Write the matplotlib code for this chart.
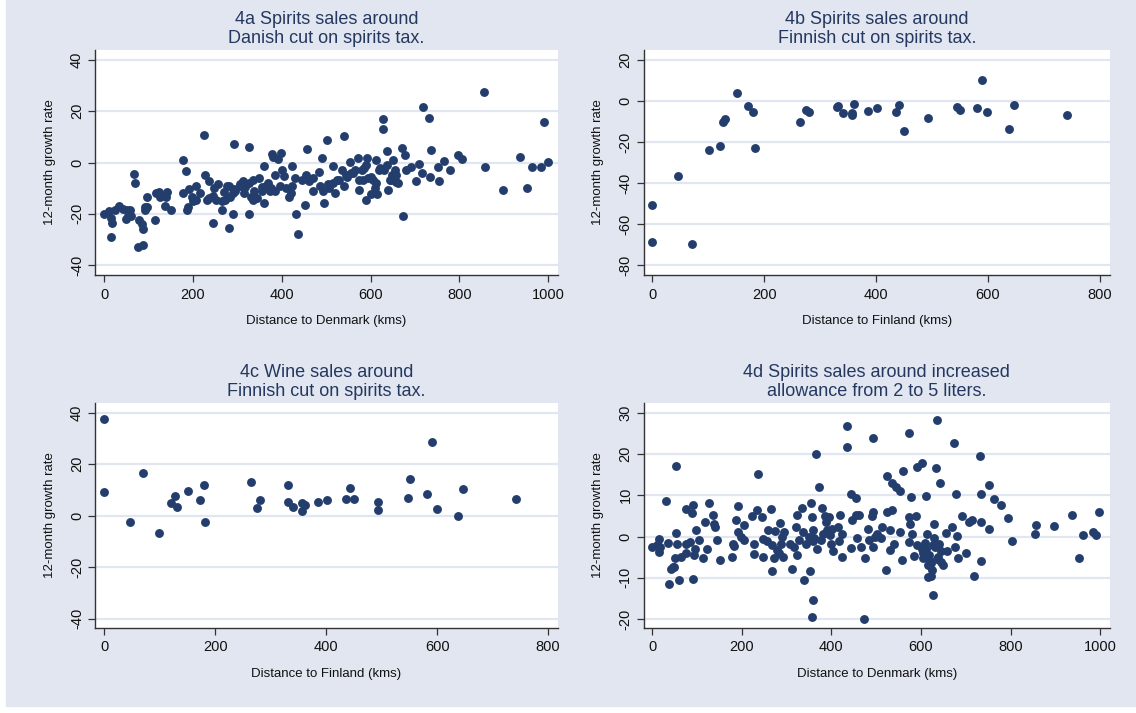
import numpy as np
import matplotlib
matplotlib.use("Agg")
import matplotlib.pyplot as plt

plt.rcParams['font.family'] = ['Liberation Sans', 'DejaVu Sans']

# ---- data ----
# 4a: spirits sales vs distance to Denmark
a_x = [0, 11, 15, 17, 16, 25, 33, 42, 50, 53, 48, 57, 60, 66, 70, 76, 79, 87, 87, 84,
       91, 91, 97, 96, 114, 117, 123, 125, 136, 140, 142, 150, 177, 178, 183, 187, 189, 191, 197, 206,
       207, 224, 228, 232, 236, 244, 247, 251, 256, 266, 269, 273, 277, 280, 283, 289, 292, 289, 293, 306,
       312, 318, 326, 326, 330, 334, 338, 348, 355, 359, 361, 369, 373, 377, 380, 385, 392, 398, 400, 404,
       416, 423, 424, 433, 436, 445, 456, 453, 461, 471, 484, 491, 493, 494, 502, 505, 516, 520, 528, 540,
       546, 554, 560, 572, 575, 580, 584, 589, 593, 601, 602, 615, 613, 620, 628, 628, 638, 640, 646, 650,
       657, 658, 670, 673, 677, 681, 691, 702, 709, 716, 718, 732, 734, 736, 752, 755, 765, 779, 796, 807,
       856, 857, 898, 937, 952, 964, 984, 992, 1000,
       525, 535, 545, 555, 565, 575, 585, 595, 605, 612,
       622, 630, 636, 643, 648, 655, 663, 610, 590, 540,
       515, 506, 485, 470, 455,
       280, 295, 305, 315, 325, 335, 345, 355, 365, 375,
       385, 395, 410, 420, 430, 265, 245, 235, 215, 200]
a_y = [-20.2, -19, -21.7, -23.7, -29, -18.7, -16.8, -18, -18.5, -21, -22, -18.5, -20.8, -4.5, -8, -33, -22.6, -32, -26, -24,
       -17.4, -18.5, -13.3, -17.2, -22.4, -12, -11.7, -13.3, -17, -13.5, -11.7, -18.5, -12, 1, -3.5, -18.5, -17.2, -10.4, -13.5, -9,
       -14.6, 10.8, -4.8, -14.6, -7.4, -23.7, -10, -14.6, -8.3, -18.5, -11.7, -14.6, -9, -25.6, -13.3, -20, 7.3, -12, -10.4, -8.5,
       -7.2, -9.4, 6, -20, -13.3, -14.6, -11.3, -5.9, -9.4, -15.9, -1.2, -8, -11.3, 3.3, 2.3, -4.8, 1.4, 3.6, -2.9, -5.2,
       -13.3, -1.2, -9, -20, -28, -6.8, 5.3, -16.4, -7.4, -11.3, -3.9, 1.8, -11, -15.9, 8.8, -8.5, -1.2, -12, -6.8, 10.5,
       -5.5, 0.1, -4.2, 1.7, -10.7, -2.9, -6.8, -14.6, 1.7, -5.5, -12.2, -12.2, 0.8, -2.9, 17, 13, 4.3, -10.7, -6.8, 1,
       -7.7, -4.8, 5.8, -20.8, 3, -2.9, -1.6, -7.4, -0.5, -4.2, 21.8, 17.5, -5.5, 4.9, -1.6, -7.4, 0.4, -3.1, 2.9, 1.3,
       27.4, -1.6, -10.7, 2.3, -9.8, -1.6, -1.8, 15.7, 0.1,
       -7, -3, -5, -4, -3, -7, -2, -6, -7, -8,
       -2, -3, -1, -7, -5, -3, -8, -10, -1, -9,
       -8, -10, -9, -6, -5,
       -9, -11, -9, -12, -8, -7, -14, -11, -9, -10,
       -11, -9, -10, -12, -6, -15, -13, -14, -12, -15]

# 4b / 4c: Finnish regions
fin_x = [0, 0, 46, 71, 101, 121, 127, 131, 151, 172, 181, 183, 264, 275, 280, 331, 332, 341, 357, 357,
         361, 385, 402, 435, 441, 450, 493, 545, 550, 581, 589, 598, 637, 647, 741]
b_y = [-50.5, -68.7, -36.5, -69.8, -23.9, -21.9, -10.2, -8.6, 3.7, -2.3, -5.2, -22.7, -10.4, -4.2, -5.2, -3.1, -2.4, -6, -6.8, -6,
       -1.6, -4.9, -3.6, -5.2, -1.9, -14.8, -8.4, -3.1, -4.4, -3.6, 10.4, -5.5, -13.8, -2.1, -6.7]

c_x = [0, 0, 46, 70, 99, 120, 127, 131, 150, 172, 180, 182, 264, 275, 280, 331, 331, 341, 356, 356,
       361, 385, 402, 435, 443, 450, 493, 493, 547, 551, 581, 590, 600, 638, 647, 743]
c_y = [37.4, 9.2, -2.6, 16.7, -6.6, 4.9, 7.8, 3.5, 9.6, 6.0, 11.9, -2.3, 12.9, 2.8, 6.0, 11.7, 5.2, 3.5, 4.9, 1.8,
       4.1, 5.3, 6.0, 6.5, 10.6, 6.3, 5.4, 2.2, 7.0, 14.4, 8.5, 28.5, 2.6, -0.3, 10.4, 6.5]

# 4d: spirits sales around increased allowance
d_x = [0, 11, 15, 15, 18, 31, 36, 37, 42, 46, 49, 53, 54, 52, 56, 59, 64, 75, 75, 75,
       85, 89, 92, 91, 94, 97, 96, 105, 114, 117, 123, 126, 136, 138, 141, 144, 151, 178, 180, 183,
       186, 192, 192, 198, 205, 206, 223, 227, 227, 235, 237, 245, 247, 248, 256, 258, 265, 267, 267, 273,
       275, 279, 282, 286, 287, 289, 291, 294, 308, 312, 317, 321, 324, 324, 328, 334, 336, 338, 344, 351,
       352, 354, 356, 359, 356, 359, 360, 362, 366, 367, 373, 376, 378, 381, 385, 389, 391, 395, 397, 399,
       401, 403, 415, 417, 419, 424, 424, 434, 434, 443, 443, 446, 454, 456, 458, 462, 466, 472, 474, 482,
       484, 490, 493, 494, 494, 498, 502, 510, 514, 521, 524, 524, 531, 531, 535, 535, 539, 545, 554, 554,
       557, 561, 573, 573, 574, 576, 578, 581, 585, 588, 592, 592, 602, 602, 604, 612, 614, 615, 620, 623,
       627, 628, 630, 632, 634, 636, 638, 640, 642, 644, 656, 658, 669, 673, 677, 678, 681, 682, 692, 700,
       708, 714, 719, 731, 734, 734, 734, 752, 752, 763, 779, 795, 804, 854, 856, 896, 937, 952, 962, 983,
       990, 998,
       608, 612, 618, 622, 626, 635, 645, 650, 625, 616, 605]
d_y = [-2.5, -2.1, -0.7, -3.7, -2.5, 8.7, -1.5, -11.4, -7.8, -7.5, -7.3, 17.1, 0.9, -5.1, -1.9, -10.6, -4.9, 6.7, -1.7, -4,
       -1.3, 5.7, 7.6, -10.4, -4.5, 1.5, -3.1, -0.9, -5.3, 3.6, -3, 8.1, 5.3, 3, 2.2, -0.9, -5.7, -4.9, -1.7, -2.3,
       4, 7.4, 1.1, -0.1, -0.9, 2.7, 5, -1.9, -4.3, 6.4, 15.2, 4.8, -0.6, -4.9, -1.1, 1.5, 6.6, -2.1, -8.3, -5.3,
       1.3, -3.3, -4.1, 3.3, -1.7, -0.2, -4.9, 1.1, -1.7, -7.8, -2.5, 2.3, 5.3, -4.5, -0.9, 7, 1.1, -10.6, -1.7, -0.1,
       -8.3, 8.2, -19.6, -15.5, 4.8, 1.5, -1.1, -0.3, 19.9, -3.1, 11.9, -0.9, 6.8, 0.7, 5, 3.6, 1.5, 4.8, 0.3, -1.9,
       1.9, -3.6, 2.3, -1.1, 5.2, 0.5, -4.9, 21.6, 26.8, -2.7, 10.4, 4, 9.3, 5.2, -0.3, 5.2, -2.5, -20, -5.1, 1.8,
       -0.9, 5, 6, 24, -2.5, -0.1, 0.7, -0.3, 2.3, -8.2, 14.7, 6, 1.5, -3.3, 13.1, 6.5, -1.7, 12, 11, 1.1,
       -5.7, 15.9, 25, -1.3, 4.8, 3.1, 9.5, 0.6, -4.8, 5, 16.9, -2.1, 17.9, -3.1, -5.3, 9.8, 0.7, -9.9, -5.9, -9.5,
       -14.1, 3.1, -0.3, -2.5, 16.7, 28.3, -4.9, -1.7, 13.1, -6.1, 0.9, -3.6, 2.3, 22.7, -2.5, 10.2, 0.1, -5.3, 5, -4.1,
       3.6, 4, -9.6, 19.6, 3.6, -6, 10.3, 1.9, 12.4, 9.2, 7.6, 4.5, -1.1, 0.7, 2.7, 2.6, 5.2, -5.1, 0.3, 1.1,
       0.3, 6,
       -1.5, -3, -4.5, -6.5, -2, -5.5, -3.5, -6.8, -8, -7, -4]

titles = ["4a Spirits sales around\nDanish cut on spirits tax.",
          "4b Spirits sales around\nFinnish cut on spirits tax.",
          "4c Wine sales around\nFinnish cut on spirits tax.",
          "4d Spirits sales around increased\nallowance from 2 to 5 liters."]
xlabels = ["Distance to Denmark (kms)", "Distance to Finland (kms)",
           "Distance to Finland (kms)", "Distance to Denmark (kms)"]

BG = '#e1e6f0'
DOT = '#233d6d'
TITLE_C = '#25385f'

fig = plt.figure(figsize=(11.36, 7.13), dpi=100)
fig.patch.set_facecolor('white')
# bluish graph region (white strip on left and bottom edges)
bg = plt.Rectangle((6/1136, 7/713), 1 - 6/1136, 1 - 7/713,
                   transform=fig.transFigure, color=BG, zorder=-10)
fig.add_artist(bg)

W, H = 1136, 713
boxes = [(95, 50, 558, 275), (643.5, 50, 1110, 275),
         (95, 403.3, 558, 627.7), (643.5, 403.3, 1110, 627.7)]
xlims = [(-21, 1022.5), (-15.5, 818.2), (-16.9, 818), (-19.4, 1022)]
ylims = [(-43.9, 43.9), (-84.9, 24.9), (-43.5, 43.6), (-22.1, 32.3)]
xticks = [np.arange(0, 1001, 200), np.arange(0, 801, 200),
          np.arange(0, 801, 200), np.arange(0, 1001, 200)]
yticks = [np.arange(-40, 41, 20), np.arange(-80, 21, 20),
          np.arange(-40, 41, 20), np.arange(-20, 31, 10)]
data = [(a_x, a_y), (fin_x, b_y), (c_x, c_y), (d_x, d_y)]

for i in range(4):
    l, t, r, b = boxes[i]
    ax = fig.add_axes([l / W, 1 - b / H, (r - l) / W, (b - t) / H])
    ax.set_facecolor('white')
    x, y = data[i]
    ax.plot(x, y, 'o', color=DOT, markersize=6.4, markeredgewidth=0, zorder=3)
    ax.set_xlim(*xlims[i])
    ax.set_ylim(*ylims[i])
    ax.set_xticks(xticks[i])
    ax.set_yticks(yticks[i])
    ax.set_yticklabels([str(v) for v in yticks[i]], rotation=90, va='center')
    ax.grid(axis='y', color=BG, linewidth=1.6, zorder=1)
    ax.set_axisbelow(True)
    for s in ['top', 'right']:
        ax.spines[s].set_visible(False)
    for s in ['left', 'bottom']:
        ax.spines[s].set_color('#333333')
        ax.spines[s].set_linewidth(1.0)
    ax.tick_params(axis='both', direction='out', length=5, width=0.9,
                   color='#333333', labelsize=10.5, labelcolor='#111111')
    ax.tick_params(axis='x', pad=4)
    ax.tick_params(axis='y', pad=3)
    ax.set_xlabel(xlabels[i], fontsize=9.5, color='#111111', labelpad=10)
    ax.set_ylabel("12-month growth rate", fontsize=9.5, color='#111111', labelpad=10)
    ax.set_title(titles[i], fontsize=13, color=TITLE_C, linespacing=1.15, pad=5)

fig.savefig("out.png", dpi=100, facecolor=fig.get_facecolor())
